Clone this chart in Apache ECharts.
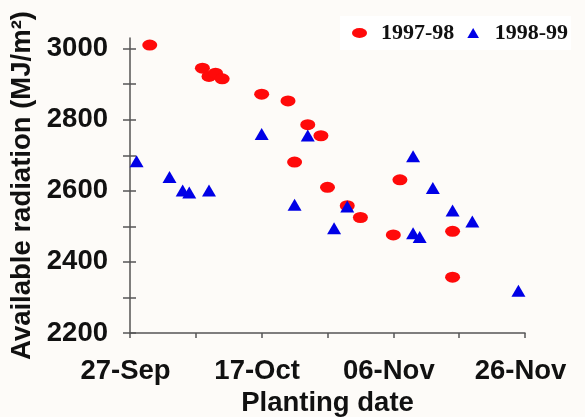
<!DOCTYPE html>
<html>
<head>
<meta charset="utf-8">
<script src="https://cdn.jsdelivr.net/npm/echarts@6/dist/echarts.min.js"></script>
<style>
  html, body { margin: 0; padding: 0; background: #fdfbf8; }
  #chart { width: 585px; height: 417px; }
</style>
</head>
<body>
<div id="chart"></div>
<script>
// Planting dates and available radiation (MJ/m²) for the two seasons
const seasonNames = ['1997-98', '1998-99'];

const dates9798 = ['30-Sep', '08-Oct', '09-Oct', '10-Oct', '11-Oct', '17-Oct', '21-Oct', '22-Oct', '24-Oct',
                   '26-Oct', '27-Oct', '30-Oct', '01-Nov', '06-Nov', '07-Nov', '15-Nov', '15-Nov'];
const radiation9798 = [3010, 2945, 2922, 2931, 2915, 2872, 2853, 2681, 2786,
                       2755, 2610, 2558, 2525, 2476, 2631, 2486, 2357];

const dates9899 = ['28-Sep', '03-Oct', '05-Oct', '06-Oct', '09-Oct', '17-Oct', '22-Oct', '24-Oct', '28-Oct',
                   '30-Oct', '09-Nov', '09-Nov', '10-Nov', '12-Nov', '15-Nov', '18-Nov', '25-Nov'];
const radiation9899 = [2683, 2639, 2601, 2595, 2601, 2760, 2561, 2756, 2495,
                       2556, 2697, 2481, 2470, 2608, 2545, 2514, 2319];

const xTickLabels = ['27-Sep', '17-Oct', '06-Nov', '26-Nov'];
const yTickLabels = [2200, 2400, 2600, 2800, 3000];
const yTicks = [2200, 2300, 2400, 2500, 2600, 2700, 2800, 2900, 3000];

// Convert "DD-Mon" into days after 27 September
const MONTHS = { Sep: 8, Oct: 9, Nov: 10 };
const ORIGIN = Date.UTC(2000, 8, 27);
function dayOffset(s) {
  const [d, m] = s.split('-');
  return (Date.UTC(2000, MONTHS[m], +d) - ORIGIN) / 86400000;
}
const xLabelByDay = {};
xTickLabels.forEach(l => { xLabelByDay[dayOffset(l)] = l; });

const pairs = (dates, vals) => dates.map((d, i) => [dayOffset(d), vals[i]]);

const FONT = '"Liberation Sans", Arial, sans-serif';
const AXIS_COLOR = '#555';
const RED = '#ff0a0a';
const BLUE = '#0000e6';

// legend glyphs: a flattened ellipse and a triangle, stretched to the item box
const ELLIPSE_ICON = 'path://M0,5A7.5,5 0 1,0 15,5A7.5,5 0 1,0 0,5Z';
const TRIANGLE_ICON = 'path://M7,0L14,12L0,12Z';

const chart = echarts.init(document.getElementById('chart'), null, { renderer: 'canvas' });
chart.setOption({
  backgroundColor: '#fdfbf8',
  animation: false,
  grid: { left: 130, right: 60, top: 38, bottom: 84, containLabel: false, outerBoundsMode: 'none' },
  legend: {
    data: [
      { name: seasonNames[0], icon: ELLIPSE_ICON, itemStyle: { color: RED } },
      { name: seasonNames[1], icon: TRIANGLE_ICON, itemStyle: { color: BLUE } }
    ],
    left: 340, top: 16,
    padding: [6, 3, 6, 12],
    itemWidth: 15, itemHeight: 10, itemGap: 13,
    backgroundColor: '#ffffff',
    textStyle: {
      fontFamily: '"Liberation Serif", "Times New Roman", serif',
      fontWeight: 'bold', fontSize: 22, color: '#111',
      padding: [0, 0, 0, 9]
    }
  },
  xAxis: {
    type: 'value', min: 0, max: 60, interval: 10,
    name: 'Planting date', nameLocation: 'middle', nameGap: 54,
    nameTextStyle: { fontFamily: FONT, fontWeight: 'bold', fontSize: 27.5, color: '#111' },
    axisLine: { show: true, onZero: false, lineStyle: { color: AXIS_COLOR, width: 1.5 } },
    axisTick: { show: true, length: 5, lineStyle: { color: AXIS_COLOR, width: 1.5 } },
    splitLine: { show: false },
    axisLabel: {
      margin: 24, fontFamily: FONT, fontWeight: 'bold', fontSize: 27.5, color: '#111',
      padding: [0, 9, 0, 0],
      formatter: v => xLabelByDay[v] || ''
    }
  },
  yAxis: [{
    type: 'value', min: 2200, max: 3030,
    name: 'Available radiation (MJ/m²)', nameLocation: 'middle', nameGap: 87,
    nameTextStyle: { fontFamily: FONT, fontWeight: 'bold', fontSize: 27.5, color: '#111' },
    axisLine: { show: true, lineStyle: { color: AXIS_COLOR, width: 1.5 } },
    axisTick: { show: true, length: 7, lineStyle: { color: AXIS_COLOR, width: 1.5 },
                customValues: yTicks },
    splitLine: { show: false },
    axisLabel: {
      margin: 22, fontFamily: FONT, fontWeight: 'bold', fontSize: 27.5, color: '#111',
      customValues: yTickLabels,
      formatter: v => String(v)
    }
  }, {
    // inner half of the crossing y ticks
    type: 'value', min: 2200, max: 3030, position: 'left',
    axisLine: { show: false },
    axisTick: { show: true, inside: true, length: 6, lineStyle: { color: AXIS_COLOR, width: 1.5 },
                customValues: yTicks },
    axisLabel: { show: false },
    splitLine: { show: false }
  }],
  series: [
    {
      name: seasonNames[0], type: 'scatter', yAxisIndex: 0,
      symbol: 'circle', symbolSize: [15, 11],
      itemStyle: { color: RED, opacity: 1 },
      data: pairs(dates9798, radiation9798)
    },
    {
      name: seasonNames[1], type: 'scatter', yAxisIndex: 0,
      symbol: 'triangle', symbolSize: [14, 12],
      itemStyle: { color: BLUE, opacity: 1 },
      data: pairs(dates9899, radiation9899)
    }
  ]
});
</script>
</body>
</html>
